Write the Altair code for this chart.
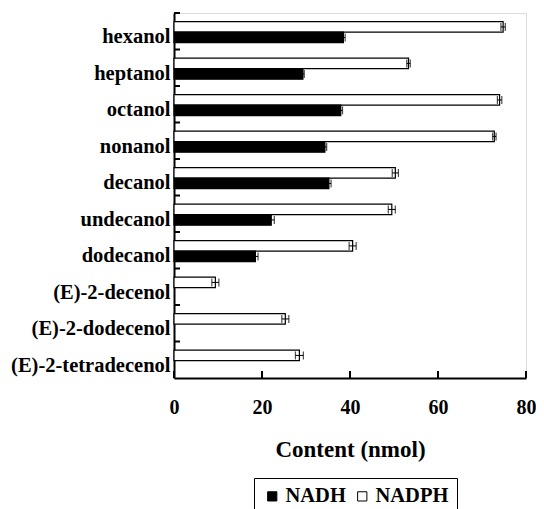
import altair as alt
import pandas as pd

categories = ["hexanol", "heptanol", "octanol", "nonanol", "decanol", "undecanol",
              "dodecanol", "(E)-2-decenol", "(E)-2-dodecenol", "(E)-2-tetradecenol"]
nadh = [38.5, 29.3, 37.9, 34.3, 35.2, 22.1, 18.5]
nadh_err = [0.4, 0.3, 0.4, 0.4, 0.5, 0.7, 0.6]
nadph = [74.8, 53.3, 74.0, 72.8, 50.3, 49.5, 40.6, 9.4, 25.3, 28.5]
nadph_err = [0.5, 0.4, 0.5, 0.4, 0.7, 0.8, 0.8, 0.8, 0.8, 0.9]
series = ["NADH", "NADPH"]
x_ticks = [0, 20, 40, 60, 80]

rows = []
for i, c in enumerate(categories):
    rows.append({"cat": c, "series": "NADPH", "value": nadph[i], "err": nadph_err[i]})
    if i < len(nadh):
        rows.append({"cat": c, "series": "NADH", "value": nadh[i], "err": nadh_err[i]})
df = pd.DataFrame(rows)
df["lo"] = df["value"] - df["err"]
df["hi"] = df["value"] + df["err"]

FONT = "Liberation Serif"
W, H = 352, 365

yscale = alt.Scale(domain=categories, paddingInner=0, paddingOuter=0)
yaxis = alt.Axis(title=None, ticks=False, labelFont=FONT, labelFontSize=20.5,
                 labelFontWeight="bold", labelColor="black", domainColor="black",
                 domainWidth=2, labelOffset=6, labelPadding=4, grid=False)
y = alt.Y("cat:N", sort=categories, scale=yscale, axis=yaxis)
yoff = alt.YOffset("series:N", sort=["NADPH", "NADH"],
                   scale=alt.Scale(domain=["NADPH", "NADH"], paddingInner=0,
                                   paddingOuter=0.74, align=0.56))
xscale = alt.Scale(domain=[0, 80], nice=False)
xaxis = alt.Axis(title="Content (nmol)", values=x_ticks, ticks=False, grid=False,
                 labelFont=FONT, labelFontSize=20, labelFontWeight="bold",
                 labelColor="black", labelPadding=19, labelFlush=False,
                 domainColor="black", domainWidth=2, titleFont=FONT,
                 titleFontSize=23, titleFontWeight="bold", titleColor="black",
                 titlePadding=21)

base = alt.Chart(df)
bars = base.mark_bar(stroke="black", strokeWidth=1.2).encode(
    x=alt.X("value:Q", scale=xscale, axis=xaxis),
    y=y,
    yOffset=yoff,
    fill=alt.Fill("series:N", scale=alt.Scale(domain=series, range=["black", "white"]),
                  legend=alt.Legend(title=None, orient="none", legendX=80, legendY=465,
                                    direction="horizontal",
                                    symbolType="square", symbolSize=85,
                                    symbolStrokeColor="black", symbolStrokeWidth=1,
                                    labelFont=FONT, labelFontSize=20.5,
                                    labelFontWeight="bold", labelColor="black",
                                    labelOffset=3, strokeColor="black", padding=8,
                                    columnPadding=6)),
)
err = base.mark_rule(color="black", strokeWidth=1).encode(
    x=alt.X("lo:Q", scale=xscale), x2="hi:Q", y=y, yOffset=yoff)
cap_lo = base.mark_tick(color="black", thickness=1.2, size=8).encode(
    x=alt.X("lo:Q", scale=xscale), y=y, yOffset=yoff)
cap_hi = base.mark_tick(color="black", thickness=1.2, size=8).encode(
    x=alt.X("hi:Q", scale=xscale), y=y, yOffset=yoff)

tick_df = pd.DataFrame({"t": x_ticks})
xt = alt.Chart(tick_df).mark_rule(color="black", strokeWidth=2).encode(
    x=alt.X("t:Q", scale=xscale), y=alt.value(H), y2=alt.value(H - 7))
cat_df = pd.DataFrame({"cat": categories})
yt = alt.Chart(cat_df).mark_rule(color="black", strokeWidth=2).encode(
    y=alt.Y("cat:N", sort=categories, scale=yscale, axis=yaxis, bandPosition=0),
    x=alt.value(0), x2=alt.value(6))

chart = alt.layer(bars, err, cap_lo, cap_hi, xt, yt).properties(
    width=W, height=H,
    autosize=alt.AutoSizeParams(type="none"),
    padding={"left": 166, "top": 5, "right": 10, "bottom": 140},
).configure_view(stroke=None).configure(background="white")

chart.save("out.html", embed_options={"renderer": "svg", "actions": False})
